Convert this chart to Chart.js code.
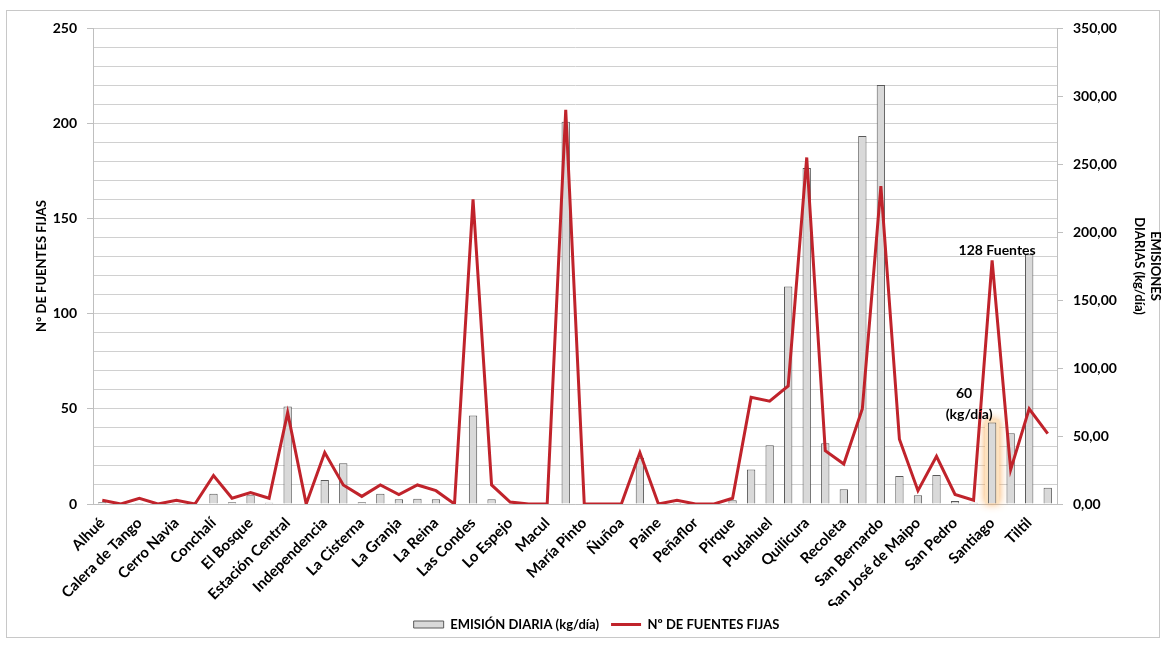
<!DOCTYPE html>
<html>
<head>
<meta charset="utf-8">
<script src="https://cdn.jsdelivr.net/npm/chart.js@4/dist/chart.umd.min.js"></script>
<style>
  html, body { margin: 0; padding: 0; background: #fff; }
  #frame { position: absolute; left: 6px; top: 10px; width: 1152px; height: 626px; border: 1px solid #c8c8c8; }
  #chart { position: absolute; left: 0; top: 0; }
</style>
</head>
<body>
<div id="frame"></div>
<canvas id="chart" width="1166" height="645"></canvas>
<script>
const comunas = ["Alhué", "Buin", "Calera de Tango", "Cerrillos", "Cerro Navia", "Colina", "Conchalí", "Curacaví",
  "El Bosque", "El Monte", "Estación Central", "Huechuraba", "Independencia", "Isla de Maipo", "La Cisterna",
  "La Florida", "La Granja", "La Pintana", "La Reina", "Lampa", "Las Condes", "Lo Barnechea", "Lo Espejo",
  "Lo Prado", "Macul", "Maipú", "María Pinto", "Melipilla", "Ñuñoa", "Padre Hurtado", "Paine",
  "Pedro Aguirre Cerda", "Peñaflor", "Peñalolén", "Pirque", "Providencia", "Pudahuel", "Puente Alto",
  "Quilicura", "Quinta Normal", "Recoleta", "Renca", "San Bernardo", "San Joaquín", "San José de Maipo",
  "San Miguel", "San Pedro", "San Ramón", "Santiago", "Talagante", "Tiltil", "Vitacura"];

// kg/día (eje derecho)
const emisionDiaria = [1.2, 0, 0.8, 0, 0.8, 0, 7.6, 1.2, 6.4, 1.0, 71.7, 0, 17.7, 30, 1.2, 7.6, 3.5, 3.9, 3.5, 0,
  65, 3.5, 0.3, 0, 0, 281, 0, 0, 0, 34, 0, 0.8, 0, 0, 2.7, 25.3, 43.2, 160, 247, 44.7, 10.8, 270.5, 308, 20.6,
  6.4, 21.4, 2.2, 1.0, 60, 52, 184, 12];

// nº de fuentes fijas (eje izquierdo)
const fuentesFijas = [2, 0, 3, 0, 2, 0, 15, 3, 6, 3, 48, 0, 27, 10, 4, 10, 5, 10, 7, 0, 160, 10, 1, 0, 0, 207,
  0, 0, 0, 27, 0, 2, 0, 0, 3, 56, 54, 62, 182, 28, 21, 50, 167, 34, 7, 25, 5, 2, 128, 18, 50, 37];

const leftTicks = [0, 50, 100, 150, 200, 250];
const rightTicks = [0, 50, 100, 150, 200, 250, 300, 350];

const santiagoIdx = comunas.indexOf("Santiago");
const FONT = "Lato, 'DejaVu Sans', sans-serif";

const highlight = {
  id: "highlight",
  beforeDatasetsDraw(chart) {
    const bar = chart.getDatasetMeta(0).data[santiagoIdx];
    if (!bar) return;
    const ctx = chart.ctx;
    const w = bar.width;
    ctx.save();
    ctx.shadowColor = "rgba(247,160,70,0.9)";
    ctx.shadowBlur = 8;
    ctx.fillStyle = "#fde2bf";
    ctx.fillRect(bar.x - w / 2 - 3, bar.y - 3, w + 6, bar.base - bar.y + 3);
    ctx.restore();
  },
  afterDatasetsDraw(chart) {
    const ctx = chart.ctx;
    const x = chart.scales.x.getPixelForValue(santiagoIdx);
    const yF = chart.scales.y.getPixelForValue(fuentesFijas[santiagoIdx]);
    const yE = chart.scales.y1.getPixelForValue(emisionDiaria[santiagoIdx]);
    ctx.save();
    ctx.fillStyle = "#000";
    ctx.font = "bold 14px " + FONT;
    ctx.textAlign = "center";
    ctx.textBaseline = "middle";
    ctx.fillText("128 Fuentes", x + 5, yF - 10);
    ctx.fillText("60", x - 28, yE - 29);
    ctx.fillText("(kg/día)", x - 23, yE - 8);
    ctx.restore();
  }
};

new Chart(document.getElementById("chart"), {
  type: "bar",
  data: {
    labels: comunas,
    datasets: [
      {
        type: "bar",
        label: "EMISIÓN DIARIA (kg/día)",
        data: emisionDiaria,
        yAxisID: "y1",
        backgroundColor: "#d9d9d9",
        borderColor: "#595959",
        borderWidth: 1,
        categoryPercentage: 1,
        barPercentage: 0.45,
        pointStyle: "rect",
        order: 2
      },
      {
        type: "line",
        label: "Nº DE FUENTES FIJAS",
        data: fuentesFijas,
        yAxisID: "y",
        borderColor: "#c0232b",
        backgroundColor: "#c0232b",
        borderWidth: 3,
        pointRadius: 0,
        pointStyle: "line",
        tension: 0,
        order: 1
      }
    ]
  },
  options: {
    responsive: false,
    animation: false,
    layout: { padding: { left: 30, right: 3, top: 28, bottom: 4 } },
    plugins: {
      tooltip: { enabled: false },
      legend: {
        position: "bottom",
        labels: {
          usePointStyle: true,
          pointStyleWidth: 30,
          boxHeight: 7,
          padding: 12,
          color: "#000",
          font: { family: FONT, size: 13, weight: "bold" },
          sort: (a, b) => a.datasetIndex - b.datasetIndex
        }
      }
    },
    scales: {
      x: {
        grid: { display: false },
        border: { display: true, color: "#bfbfbf" },
        afterFit: axis => { axis.height = 102; },
        ticks: {
          autoSkip: false,
          maxRotation: 45,
          minRotation: 45,
          padding: 2,
          color: "#000",
          font: { family: FONT, size: 15, weight: "bold" },
          callback: (v, i) => (i % 2 === 0 ? comunas[i] : "")
        }
      },
      y: {
        position: "left",
        min: 0,
        max: leftTicks[leftTicks.length - 1],
        afterFit: axis => { axis.width = 63; },
        ticks: {
          stepSize: 10,
          autoSkip: false,
          padding: 10,
          color: "#000",
          font: { family: FONT, size: 14, weight: "bold" },
          callback: v => (leftTicks.includes(v) ? v : "")
        },
        grid: {
          color: "#d0d0d0",
          tickLength: 6,
          tickColor: c => (c.tick && leftTicks.includes(c.tick.value) ? "#bfbfbf" : "rgba(0,0,0,0)")
        },
        border: { color: "#bfbfbf" },
        title: {
          display: true,
          text: "N° DE FUENTES FIJAS",
          color: "#000",
          padding: { top: 4, bottom: 4 },
          font: { family: FONT, size: 13, weight: "bold" }
        }
      },
      y1: {
        position: "right",
        min: 0,
        max: rightTicks[rightTicks.length - 1],
        afterBuildTicks: axis => { axis.ticks = rightTicks.map(v => ({ value: v })); },
        afterFit: axis => { axis.width = 106; },
        ticks: {
          padding: 10,
          color: "#000",
          font: { family: FONT, size: 14, weight: "bold" },
          callback: v => v.toFixed(2).replace(".", ",")
        },
        grid: { drawOnChartArea: false, tickLength: 6, tickColor: "#bfbfbf" },
        border: { color: "#bfbfbf" },
        title: {
          display: true,
          text: ["EMISIONES", "DIARIAS (kg/día)"],
          color: "#000",
          padding: { top: 0, bottom: 0 },
          font: { family: FONT, size: 13, weight: "bold" }
        }
      }
    }
  },
  plugins: [highlight]
});
</script>
</body>
</html>
